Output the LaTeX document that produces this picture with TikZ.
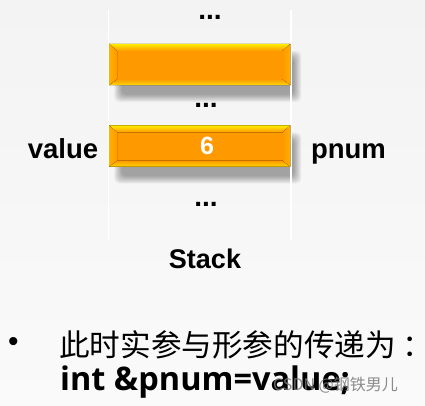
\documentclass[tikz,border=0pt]{standalone}
\usepackage{fontspec}
\setmainfont{Liberation Sans}
\newfontfamily\cjk{Noto Sans CJK SC}
\newfontfamily\codefont{Open Sans}
\usetikzlibrary{calc}

\definecolor{bgtop}{RGB}{243,243,243}
\definecolor{bgbot}{RGB}{250,250,250}
\definecolor{barorange}{RGB}{255,153,0}
\definecolor{baryellow}{RGB}{255,238,0}
\definecolor{barbottom}{RGB}{255,215,0}
\definecolor{barside}{RGB}{255,176,0}
\definecolor{wmgray}{RGB}{120,120,120}

\tikzset{
  stackbar/.style={rectangle, minimum width=181pt, minimum height=41pt, inner sep=0pt, fill=barorange},
  lbl/.style={font=\bfseries\fontsize{27.5}{30}\selectfont, text=black, inner sep=0pt, anchor=base},
  dotsty/.style={font=\bfseries\fontsize{28}{30}\selectfont, text=black, inner sep=0pt, anchor=base},
  frameline/.style={white, line width=1.3pt}
}

% soft drop shadow below a cell
\newcommand\shadowbar[1]{%
  \foreach \k in {0,...,13}{%
    \fill[black, opacity=0.026, rounded corners=5pt]
      ($(#1.north west)+(5+0.6*\k,7+0.6*\k)$) rectangle ($(#1.south east)+(11-0.6*\k,17-0.6*\k)$);
  }%
}
% bevelled faces of a cell
\newcommand\bevelbar[1]{%
  \fill[top color=baryellow, bottom color=barorange]
    (#1.north west) -- (#1.north east) -- ($(#1.north east)+(-8,7)$) -- ($(#1.north west)+(8,7)$) -- cycle;
  \fill[top color=barorange, bottom color=barbottom]
    (#1.south west) -- (#1.south east) -- ($(#1.south east)+(-8,-6)$) -- ($(#1.south west)+(8,-6)$) -- cycle;
  \fill[left color=barside, right color=barorange]
    (#1.north west) -- ($(#1.north west)+(8,7)$) -- ($(#1.south west)+(8,-6)$) -- (#1.south west) -- cycle;
  \fill[right color=barside, left color=barorange]
    (#1.north east) -- ($(#1.north east)+(-8,7)$) -- ($(#1.south east)+(-8,-6)$) -- (#1.south east) -- cycle;
}

\begin{document}
\begin{tikzpicture}[x=1pt, y=-1pt]
  \useasboundingbox (0,0) rectangle (425,406);
  \shade[top color=bgtop, bottom color=bgbot] (0,0) rectangle (425,406);

  % stack cells (positions first, shadows behind)
  \path (199.75,64.5) node[stackbar, fill=none] (bar1) {}
        (199.75,146) node[stackbar, fill=none] (bar2) {};
  \shadowbar{bar1}
  \shadowbar{bar2}

  % frame lines of the stack
  \draw[frameline] (108.5,10) -- (108.5,240);
  \draw[frameline] (291,10) -- (291,240);

  \node[stackbar] at (bar1) {};
  \bevelbar{bar1}
  \node[stackbar] at (bar2) {};
  \bevelbar{bar2}
  \node[font=\bfseries\fontsize{25}{27}\selectfont, text=white, inner sep=0pt] (six) at (207,146) {6};

  % dots
  \node[dotsty] (dots1) at (210,19.5) {...};
  \node[dotsty] (dots2) at (206,107.5) {...};
  \node[dotsty] (dots3) at (206,206.5) {...};

  % labels
  \node[lbl] (value) at (63,158) {value};
  \node[lbl] (pnum) at (348.5,158) {pnum};
  \node[font=\bfseries\fontsize{27}{30}\selectfont, inner sep=0pt, anchor=base] (stack) at (205,268) {Stack};

  % bottom text
  \node[font=\fontsize{30}{32}\selectfont, inner sep=0pt] (bullet) at (13.5,344) {•};
  \node[font=\cjk\fontsize{30.6}{32}\selectfont, inner sep=0pt, anchor=base west] (zh) at (59,356) {此时实参与形参的传递为\hspace{7pt}\makebox[14pt][l]{：}};
  \node[font=\codefont\bfseries\fontsize{32.5}{34}\selectfont, inner sep=0pt, anchor=base west] (code) at (60,390) {int \&pnum=value;};

  % watermark
  \node[font=\cjk\fontsize{16}{16}\selectfont, text=wmgray, opacity=0.85, inner sep=0pt, anchor=west] (wm) at (273,385) {CSDN @钢铁男儿};
\end{tikzpicture}
\end{document}
